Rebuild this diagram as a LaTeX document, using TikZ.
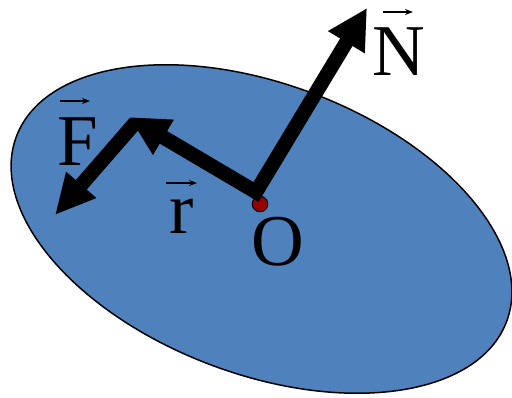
\documentclass[tikz,border=0pt]{standalone}
\usepackage{fontspec}
\setmainfont{Liberation Serif}
\usetikzlibrary{arrows.meta,calc}
\definecolor{ellblue}{RGB}{79,129,189}
\definecolor{dotred}{RGB}{150,0,0}
\tikzset{
  lbl/.style={inner sep=0pt, font=\fontsize{73}{80}\selectfont},
  bigarrow/.style={line width=14.5pt, line join=miter, draw=black},
  vecarrow/.style={line width=1.8pt, -{Stealth[length=8pt,width=6pt]}},
}
\begin{document}
\begin{tikzpicture}[x=1pt,y=-1pt]
\useasboundingbox (0,0) rectangle (512,397);
\draw[fill=ellblue, line width=1.5pt, shift={(261.5,229)}, rotate=-20.7] (0,0) ellipse [x radius=262, y radius=145];
\node[circle, draw=black, line width=1pt, fill=dotred, inner sep=0pt, minimum size=15.5pt] (Odot) at (260,204) {};
\coordinate (J) at (256,192);
\coordinate (Ntip) at (367,8);
\coordinate (rtip) at (129,117);
\coordinate (Fstart) at (135,123);
\coordinate (Ftip) at (55,215);
\draw[bigarrow, {Triangle[length=40pt,width=40pt]}-{Triangle[length=40pt,width=38pt]}] (Ntip) -- (J) -- (rtip);
\draw[bigarrow, -{Triangle[length=40pt,width=37pt]}] (Fstart) -- (Ftip);
\node[lbl, anchor=base] (N) at (399,75) {N};
\node[lbl, anchor=base] (F) at (77.5,165) {F};
\node[lbl, anchor=base] (r) at (181.5,233) {r};
\node[lbl, anchor=base] (O) at (278,265) {O};
\draw[vecarrow] ($(N.base)+(-16,-63)$) -- ++(30,0);
\draw[vecarrow] ($(F.base)+(-17.5,-64)$) -- ++(30,0);
\draw[vecarrow] ($(r.base)+(-15.5,-50)$) -- ++(31,0);
\end{tikzpicture}
\end{document}
